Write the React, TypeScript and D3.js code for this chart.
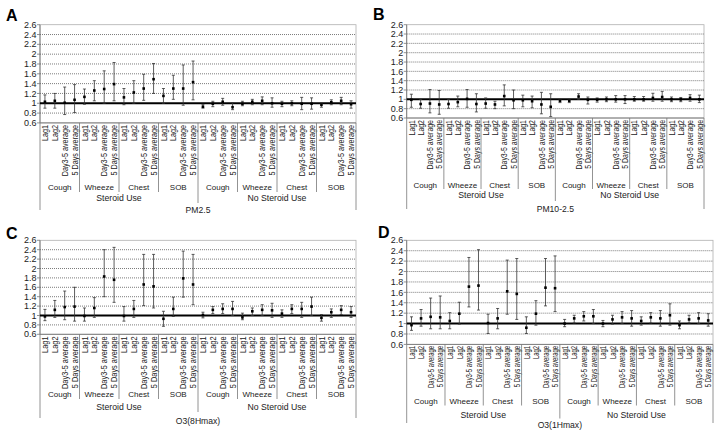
import React from 'react';
import * as d3 from 'd3';

const metrics = ['Lag1', 'Lag2', 'Day3-5 average', '5 Days average'];
const symptoms = ['Cough', 'Wheeze', 'Chest', 'SOB'];
const steroidGroups = ['Steroid Use', 'No Steroid Use'];
const yTicks = [0.6, 0.8, 1, 1.2, 1.4, 1.6, 1.8, 2, 2.2, 2.4, 2.6];
const yTickLabels = ['0.6', '0.8', '1', '1.2', '1.4', '1.6', '1.8', '2', '2.2', '2.4', '2.6'];

// PM2.5
const pm25Est = [1.03, 1.05, 1.01, 1.07, 1.13, 1.26, 1.29, 1.39, 1.12, 1.22, 1.30, 1.49, 1.15, 1.30, 1.30, 1.43, 0.93, 0.99, 1.03, 0.92, 0.99, 1.03, 1.05, 1.00, 0.99, 1.00, 0.99, 0.99, 0.97, 1.02, 1.05, 0.98];
const pm25Lo = [0.90, 0.90, 0.77, 0.81, 0.98, 1.05, 1.00, 1.05, 0.97, 1.00, 1.06, 1.20, 1.00, 1.08, 0.96, 1.07, 0.90, 0.93, 0.96, 0.87, 0.95, 0.97, 0.97, 0.92, 0.93, 0.95, 0.87, 0.88, 0.92, 0.97, 0.97, 0.90];
const pm25Hi = [1.17, 1.20, 1.33, 1.38, 1.29, 1.46, 1.66, 1.83, 1.30, 1.46, 1.59, 1.81, 1.30, 1.57, 1.78, 1.86, 0.98, 1.04, 1.10, 1.01, 1.04, 1.08, 1.13, 1.11, 1.04, 1.05, 1.12, 1.11, 1.00, 1.07, 1.12, 1.05];

// PM10-2.5
const pm10Est = [0.99, 0.90, 0.91, 0.89, 0.90, 0.94, 1.01, 0.90, 0.91, 0.89, 1.07, 0.98, 0.98, 0.96, 0.89, 0.84, 0.97, 0.97, 1.06, 0.99, 0.99, 1.00, 1.00, 1.00, 1.00, 1.00, 1.03, 1.05, 1.00, 1.00, 1.03, 1.00];
const pm10Lo = [0.83, 0.81, 0.71, 0.68, 0.81, 0.84, 0.83, 0.73, 0.81, 0.80, 0.86, 0.80, 0.84, 0.82, 0.69, 0.63, 0.93, 0.93, 1.00, 0.90, 0.94, 0.95, 0.94, 0.91, 0.96, 0.96, 0.96, 0.96, 0.95, 0.95, 0.96, 0.93];
const pm10Hi = [1.11, 1.00, 1.21, 1.19, 1.00, 1.07, 1.21, 1.12, 1.03, 0.96, 1.31, 1.20, 1.09, 1.07, 1.15, 1.12, 1.00, 1.00, 1.12, 1.05, 1.03, 1.05, 1.08, 1.08, 1.06, 1.06, 1.13, 1.17, 1.05, 1.04, 1.10, 1.09];

// O3(8Hmax)
const o38Est = [0.98, 1.12, 1.18, 1.19, 0.99, 1.16, 1.83, 1.76, 0.99, 1.14, 1.66, 1.62, 0.93, 1.14, 1.79, 1.66, 1.01, 1.12, 1.14, 1.14, 0.96, 1.09, 1.12, 1.11, 1.04, 1.14, 1.14, 1.19, 0.95, 1.07, 1.12, 1.07];
const o38Lo = [0.89, 0.96, 0.91, 0.88, 0.88, 0.96, 1.40, 1.28, 0.88, 0.96, 1.21, 1.16, 0.77, 0.98, 1.39, 1.23, 0.95, 1.04, 1.04, 1.00, 0.91, 1.00, 1.00, 0.96, 0.96, 1.04, 0.96, 1.00, 0.88, 0.96, 1.02, 0.96];
const o38Hi = [1.13, 1.32, 1.52, 1.60, 1.16, 1.38, 2.40, 2.45, 1.19, 1.32, 2.30, 2.30, 1.09, 1.39, 2.37, 2.30, 1.07, 1.19, 1.25, 1.30, 1.05, 1.16, 1.23, 1.26, 1.12, 1.23, 1.28, 1.39, 1.02, 1.14, 1.21, 1.19];

// O3(1Hmax)
const o31Est = [0.97, 1.10, 1.13, 1.12, 1.05, 1.19, 1.71, 1.73, 1.01, 1.10, 1.62, 1.57, 0.92, 1.19, 1.69, 1.68, 1.00, 1.10, 1.14, 1.14, 1.00, 1.08, 1.12, 1.10, 1.05, 1.12, 1.10, 1.16, 0.97, 1.08, 1.10, 1.06];
const o31Lo = [0.87, 0.95, 0.90, 0.90, 0.90, 0.99, 1.32, 1.26, 0.81, 0.90, 1.18, 1.08, 0.81, 0.97, 1.34, 1.23, 0.94, 1.01, 1.05, 1.00, 0.94, 0.99, 1.00, 0.95, 0.97, 1.01, 0.95, 0.97, 0.90, 1.01, 1.00, 0.95];
const o31Hi = [1.13, 1.27, 1.49, 1.53, 1.21, 1.41, 2.27, 2.42, 1.18, 1.29, 2.22, 2.25, 1.13, 1.44, 2.25, 2.30, 1.08, 1.16, 1.23, 1.27, 1.06, 1.16, 1.23, 1.25, 1.13, 1.21, 1.25, 1.38, 1.05, 1.16, 1.21, 1.19];

const categories: { key: string; metric: string; symptom: string; group: string }[] = [];
steroidGroups.forEach((g) =>
  symptoms.forEach((s) =>
    metrics.forEach((m) => categories.push({ key: `${g}|${s}|${m}`, metric: m, symptom: s, group: g }))
  )
);

const FONT = '"Liberation Sans", Arial, Helvetica, sans-serif';

type PanelCfg = {
  letter: string; lx: number; ly: number;
  left: number; right: number; top: number; bottom: number;
  tickTop: number; symY: number; sepEnd: number; stY: number; midEnd: number;
  titleY: number; edgeEnd: number; labelScale: number; title: string;
  est: number[]; lo: number[]; hi: number[];
};

const panels: PanelCfg[] = [
  { letter: 'A', lx: 6, ly: 20.7, left: 40, right: 356, top: 24.7, bottom: 122.9, tickTop: 125, symY: 190, sepEnd: 192, stY: 200.5, midEnd: 203, titleY: 213, edgeEnd: 210, labelScale: 0.88, title: 'PM2.5', est: pm25Est, lo: pm25Lo, hi: pm25Hi },
  { letter: 'B', lx: 373, ly: 20.3, left: 406.7, right: 704, top: 24.7, bottom: 118, tickTop: 120, symY: 187.5, sepEnd: 189, stY: 198, midEnd: 201, titleY: 212, edgeEnd: 209, labelScale: 0.85, title: 'PM10-2.5', est: pm10Est, lo: pm10Lo, hi: pm10Hi },
  { letter: 'C', lx: 6, ly: 238.5, left: 40, right: 356, top: 240.3, bottom: 334.3, tickTop: 336.5, symY: 397, sepEnd: 399, stY: 410, midEnd: 412, titleY: 424, edgeEnd: 418, labelScale: 0.9, title: 'O3(8Hmax)', est: o38Est, lo: o38Lo, hi: o38Hi },
  { letter: 'D', lx: 378, ly: 238, left: 406.7, right: 713, top: 240.3, bottom: 344.4, tickTop: 346, symY: 404, sepEnd: 405.5, stY: 417.5, midEnd: 418.5, titleY: 427.8, edgeEnd: 423, labelScale: 0.72, title: 'O3(1Hmax)', est: o31Est, lo: o31Lo, hi: o31Hi },
];

function Panel({ c }: { c: PanelCfg }) {
  const x = d3.scaleBand<string>().domain(categories.map((d) => d.key)).range([c.left, c.right]).padding(0);
  const y = d3.scaleLinear().domain([0.6, 2.6]).range([c.bottom, c.top]);
  const bw = x.bandwidth();
  const cx = (i: number) => (x(categories[i].key) as number) + bw / 2;
  const edgeX = (i: number) => (i >= categories.length ? c.right : (x(categories[i].key) as number));
  const symGroups = d3.range(8);
  return (
    <g>
      <text x={c.lx} y={c.ly} fontSize={16} fontWeight="bold" fontFamily={FONT}>{c.letter}</text>
      <rect x={c.left} y={c.top} width={c.right - c.left} height={c.bottom - c.top} fill="none" stroke="#b0b0b0" strokeWidth={0.8} />
      {yTicks.filter((t) => t !== 0.6 && t !== 2.6 && t !== 1).map((t) => (
        <line key={t} x1={c.left} x2={c.right} y1={y(t)} y2={y(t)} stroke="#444" strokeWidth={0.7} strokeDasharray="1,1" />
      ))}
      <line x1={c.left} x2={c.left} y1={c.top} y2={c.bottom} stroke="#777" strokeWidth={0.9} />
      {yTicks.map((t, i) => (
        <g key={t}>
          <line x1={c.left - 3} x2={c.left} y1={y(t)} y2={y(t)} stroke="#777" strokeWidth={0.8} />
          <text x={c.left - 3.5} y={y(t)} dy="0.35em" textAnchor="end" fontSize={9} fontFamily={FONT} fill="#222">{yTickLabels[i]}</text>
        </g>
      ))}
      <line x1={c.left} x2={c.right} y1={c.bottom} y2={c.bottom} stroke="#777" strokeWidth={0.9} />
      <line x1={c.left} x2={c.right} y1={y(1)} y2={y(1)} stroke="#000" strokeWidth={2} />
      {categories.map((d, i) => (
        <g key={d.key}>
          <line x1={cx(i)} x2={cx(i)} y1={y(c.lo[i])} y2={y(c.hi[i])} stroke="#333" strokeWidth={0.8} />
          <line x1={cx(i) - 1.5} x2={cx(i) + 1.5} y1={y(c.hi[i])} y2={y(c.hi[i])} stroke="#333" strokeWidth={0.8} />
          <line x1={cx(i) - 1.5} x2={cx(i) + 1.5} y1={y(c.lo[i])} y2={y(c.lo[i])} stroke="#333" strokeWidth={0.8} />
          <rect x={cx(i) - 1.3} y={y(c.est[i]) - 1.3} width={2.6} height={2.6} fill="#000" />
        </g>
      ))}
      {categories.map((d, i) => (
        <text key={'l' + d.key} transform={`translate(${cx(i) + 0.3},${c.tickTop}) rotate(-90) scale(${c.labelScale},1)`} dy="0.35em" textAnchor="end" fontSize={8.2} fontFamily={FONT} fill="#222">{d.metric}</text>
      ))}
      {[4, 8, 12, 20, 24, 28].map((i) => (
        <line key={'s' + i} x1={edgeX(i)} x2={edgeX(i)} y1={c.bottom} y2={c.sepEnd} stroke="#777" strokeWidth={0.8} />
      ))}
      <line x1={edgeX(16)} x2={edgeX(16)} y1={c.bottom} y2={c.midEnd} stroke="#777" strokeWidth={0.8} />
      <line x1={c.left} x2={c.left} y1={c.bottom} y2={c.edgeEnd} stroke="#777" strokeWidth={0.8} />
      <line x1={c.right} x2={c.right} y1={c.bottom} y2={c.edgeEnd} stroke="#777" strokeWidth={0.8} />
      {symGroups.map((g) => (
        <text key={'g' + g} x={(edgeX(g * 4) + edgeX(g * 4 + 4)) / 2} y={c.symY} textAnchor="middle" fontSize={8} fontFamily={FONT} fill="#222">{symptoms[g % 4]}</text>
      ))}
      {steroidGroups.map((s, k) => (
        <text key={s} x={(edgeX(k * 16) + edgeX(k * 16 + 16)) / 2} y={c.stY} textAnchor="middle" fontSize={8.7} fontFamily={FONT} fill="#222">{s}</text>
      ))}
      <text x={(c.left + c.right) / 2} y={c.titleY} textAnchor="middle" fontSize={8.6} fontFamily={FONT} fill="#222">{c.title}</text>
    </g>
  );
}

export default function App() {
  return (
    <svg width={721} height={436} style={{ position: 'absolute', left: 0, top: 0, background: '#fff' }}>
      <rect width={721} height={436} fill="#fff" />
      {panels.map((p) => <Panel key={p.letter} c={p} />)}
    </svg>
  );
}
